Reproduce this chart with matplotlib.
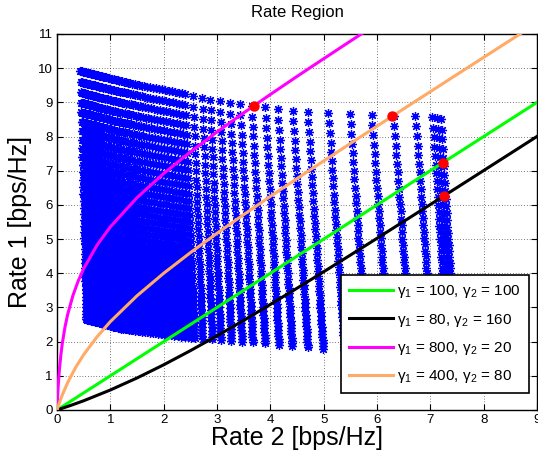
import numpy as np
import matplotlib
matplotlib.use('Agg')
import matplotlib.pyplot as plt

plt.rcParams['font.family'] = ['Liberation Sans', 'DejaVu Sans']
plt.rcParams['mathtext.fontset'] = 'custom'
plt.rcParams['mathtext.rm'] = 'Liberation Sans'
plt.rcParams['mathtext.default'] = 'regular'

# rate region grid: each column runs from its top end to its bottom end
col_x_top = [0.44, 0.455, 0.47, 0.485, 0.50, 0.515, 0.53, 0.545, 0.56, 0.58, 0.60, 0.62,
             0.64, 0.66, 0.68, 0.70, 0.72, 0.74, 0.76, 0.785, 0.81, 0.835, 0.86, 0.89,
             0.92, 0.95, 0.98, 1.01, 1.04, 1.07, 1.10, 1.135, 1.17, 1.21, 1.25, 1.29,
             1.33, 1.37, 1.41, 1.455, 1.50, 1.545, 1.59, 1.64, 1.69, 1.745, 1.80, 1.855,
             1.91, 1.97, 2.03, 2.095, 2.16, 2.22, 2.28, 2.34, 2.40,
             2.55, 2.72, 2.87, 3.05, 3.24, 3.43, 3.65, 3.90, 4.14, 4.42, 4.70, 5.09,
             5.49, 5.90, 6.31, 6.72, 7.04, 7.13, 7.20]
col_y_top = [9.92, 9.91, 9.91, 9.90, 9.90, 9.89, 9.88, 9.88, 9.87, 9.86, 9.86, 9.85,
             9.84, 9.83, 9.82, 9.82, 9.81, 9.80, 9.79, 9.78, 9.77, 9.76, 9.75, 9.74,
             9.73, 9.72, 9.70, 9.69, 9.68, 9.67, 9.66, 9.65, 9.63, 9.62, 9.61, 9.59,
             9.58, 9.57, 9.55, 9.54, 9.52, 9.51, 9.49, 9.48, 9.46, 9.45, 9.43, 9.41,
             9.40, 9.38, 9.36, 9.34, 9.32, 9.30, 9.28, 9.26, 9.24,
             9.19, 9.13, 9.08, 9.03, 8.98, 8.94, 8.89, 8.85, 8.80, 8.76, 8.73, 8.70,
             8.66, 8.63, 8.61, 8.60, 8.56, 8.53, 8.50]
col_x_bot = [0.550, 0.566, 0.581, 0.597, 0.612, 0.628, 0.643, 0.659, 0.674, 0.695, 0.716,
             0.736, 0.757, 0.778, 0.798, 0.819, 0.840, 0.861, 0.881, 0.907, 0.933, 0.959,
             0.985, 1.016, 1.047, 1.078, 1.109, 1.140, 1.171, 1.202, 1.233, 1.269, 1.306,
             1.347, 1.388, 1.430, 1.471, 1.513, 1.554, 1.601, 1.647, 1.694, 1.740, 1.792,
             1.844, 1.901, 1.958, 2.015, 2.072, 2.134, 2.196, 2.263, 2.330, 2.392, 2.454,
             2.517, 2.579,
             2.73, 2.91, 3.07, 3.27, 3.47, 3.67, 3.90, 4.16, 4.41, 4.70, 4.99, 5.39,
             5.80, 6.22, 6.63, 7.04, 7.32, 7.40, 7.46]
col_y_bot = [2.65, 2.64, 2.64, 2.63, 2.62, 2.62, 2.61, 2.60, 2.60, 2.59, 2.58, 2.57,
             2.56, 2.56, 2.55, 2.54, 2.53, 2.52, 2.51, 2.50, 2.49, 2.48, 2.47, 2.46,
             2.44, 2.43, 2.42, 2.40, 2.39, 2.38, 2.37, 2.36, 2.36, 2.35, 2.34, 2.33,
             2.32, 2.31, 2.30, 2.29, 2.28, 2.27, 2.26, 2.25, 2.24, 2.23, 2.21, 2.20,
             2.19, 2.18, 2.17, 2.16, 2.15, 2.14, 2.13, 2.12, 2.11,
             2.09, 2.07, 2.05, 2.02, 2.00, 1.98, 1.95, 1.91, 1.87, 1.83, 1.79, 1.76,
             1.74, 1.74, 1.75, 1.77, 1.78, 1.79, 1.80]
# row levels read along the left edge of the region
row_levels = [2.65, 2.73, 2.82, 2.91, 3.01, 3.11, 3.21, 3.31, 3.42, 3.53, 3.65, 3.77,
              3.89, 4.02, 4.15, 4.29, 4.43, 4.57, 4.72, 4.88, 5.04, 5.20, 5.37, 5.55,
              5.73, 5.92, 6.11, 6.31, 6.52, 6.73, 6.95, 7.18, 7.41, 7.66, 7.91, 8.17,
              8.43, 8.71, 8.99, 9.29, 9.60, 9.92]

# boundary curves (Rate 2, Rate 1)
green_r2 = [0, 9]
green_r1 = [0, 9]
black_r2 = [0, 0.25, 0.5, 1, 1.5, 2, 2.5, 3, 3.5, 4, 4.5, 5, 5.5, 6, 6.5, 7, 7.5, 8, 8.5, 9]
black_r1 = [0, 0.13, 0.27, 0.585, 0.937, 1.322, 1.735, 2.17, 2.622, 3.088, 3.562, 4.044,
            4.531, 5.022, 5.516, 6.011, 6.508, 7.006, 7.504, 8.003]
magenta_r2 = [0, 0.005, 0.01, 0.02, 0.035, 0.05, 0.075, 0.1, 0.15, 0.2, 0.3, 0.4, 0.5,
              0.75, 1, 1.5, 2, 2.5, 3, 3.5, 4, 4.5, 5, 5.5, 5.75]
magenta_r1 = [0, 0.188, 0.354, 0.640, 0.987, 1.269, 1.648, 1.953, 2.429, 2.797, 3.357,
              3.785, 4.135, 4.821, 5.358, 6.212, 6.919, 7.549, 8.134, 8.692, 9.231,
              9.759, 10.277, 10.790, 11.046]
orange_r2 = [0, 0.02, 0.05, 0.1, 0.2, 0.35, 0.5, 0.75, 1, 1.5, 2, 2.5, 3, 3.5, 4, 4.5,
             5, 5.5, 6, 6.5, 7, 7.5, 8, 8.5, 8.7]
orange_r1 = [0, 0.097, 0.234, 0.442, 0.802, 1.247, 1.619, 2.140, 2.585, 3.342, 4.0,
             4.602, 5.170, 5.716, 6.248, 6.770, 7.285, 7.796, 8.304, 8.810, 9.313,
             9.816, 10.317, 10.819, 11.019]
labels = [r'γ$_1$ = 100, γ$_2$ = 100', r'γ$_1$ = 80, γ$_2$ = 160',
          r'γ$_1$ = 800, γ$_2$ = 20', r'γ$_1$ = 400, γ$_2$ = 80']

dots_r2 = [3.69, 6.29, 7.23, 7.26]
dots_r1 = [8.89, 8.61, 7.23, 6.27]

# build grid points
lv = np.array(row_levels)
f = (lv - lv[0]) / (lv[-1] - lv[0])
xt, yt = np.array(col_x_top), np.array(col_y_top)
xb, yb = np.array(col_x_bot), np.array(col_y_bot)
gx = xb[None, :] + f[:, None] * (xt - xb)[None, :]
gy = yb[None, :] + f[:, None] * (yt - yb)[None, :]

fig = plt.figure(figsize=(5.38, 4.54), dpi=100)
ax = fig.add_axes([57/538, 44/454, 480/538, 376/454])

ax.plot(gx.ravel(), gy.ravel(), ls='none', marker=(8, 2, 0), ms=6.5, mew=0.9,
        color='blue', zorder=2)

ax.plot(green_r2, green_r1, color=(0, 1, 0), lw=2.2, label=labels[0], zorder=3)
ax.plot(black_r2, black_r1, color='black', lw=2.2, label=labels[1], zorder=3)
ax.plot(magenta_r2, magenta_r1, color=(1, 0, 1), lw=2.2, label=labels[2], zorder=3)
ax.plot(orange_r2, orange_r1, color='#ffaa66', lw=2.2, label=labels[3], zorder=3)
ax.plot(dots_r2, dots_r1, 'o', color='red', ms=6.5, zorder=4)

ax.set_xlim(0, 9)
ax.set_ylim(0, 11)
ax.set_xticks(range(0, 10))
ax.set_yticks(range(0, 12))
ax.tick_params(direction='in', top=True, right=True, length=4, width=0.8,
               labelsize=9.5, pad=3)
ax.grid(True, color='black', ls=(0, (1, 3)), lw=0.5)
for s in ax.spines.values():
    s.set_linewidth(1.0)

ax.set_title('Rate Region', fontsize=12, pad=12)
ax.set_xlabel('Rate 2 [bps/Hz]', fontsize=18, labelpad=0)
ax.set_ylabel('Rate 1 [bps/Hz]', fontsize=18, labelpad=4)

leg = ax.legend(loc='lower right', bbox_to_anchor=(0.983, 0.045), borderaxespad=0,
                fontsize=11, handlelength=2.9, handletextpad=0.3, labelspacing=0.75,
                fancybox=False, framealpha=1, edgecolor='black', borderpad=0.5)
leg.get_frame().set_linewidth(1.2)
leg.set_zorder(5)

fig.savefig('out.png', dpi=100)
